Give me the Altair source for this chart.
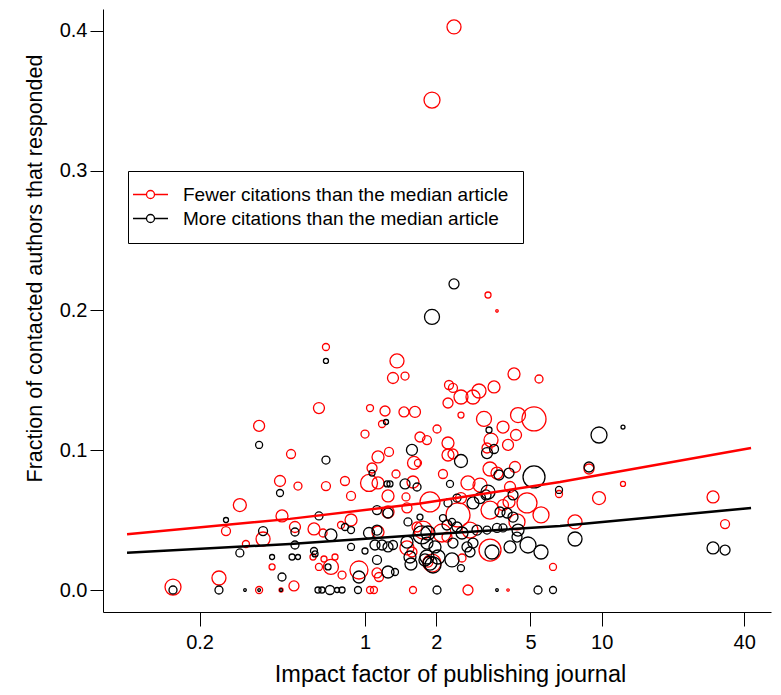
import altair as alt
import pandas as pd

# ---- data (impact factor, fraction responded, marker weight) ----
red_x = [2.377, 1.919, 3.309, 3.611, 0.684, 1.365, 1.313, 1.476, 4.261, 5.434,
         2.264, 2.353, 2.544, 2.859, 3.031, 3.508, 2.242, 0.639, 1.050, 1.215,
         1.461, 1.626, 2.544, 3.182, 5.176, 0.357, 1.180, 2.015, 3.828, 1.000,
         1.707, 1.827, 4.345, 3.407, 4.020, 0.487, 1.135, 1.263, 2.242, 2.353,
         3.277, 1.611, 1.674, 1.071, 1.352, 2.135, 3.374, 3.611, 4.302, 0.4375,
         0.521, 0.684, 0.823, 0.873, 1.040, 1.135, 1.251, 1.595, 2.723, 3.061,
         4.099, 2.544, 1.882, 3.828, 4.059, 4.835, 5.541, 6.601, 8.837, 12.30,
         9.741, 29.53, 33.19, 7.714, 2.471, 4.387, 1.490, 0.296, 0.446, 0.2587,
         0.506, 0.609, 0.665, 0.792, 0.873, 0.314, 0.371, 1.251, 1.504, 1.135,
         1.659, 1.504, 1.579, 1.758, 2.115, 2.220, 2.777, 3.374, 1.845, 1.919,
         2.569, 6.227, 0.405, 0.603, 0.639, 0.671, 0.718, 0.747, 0.800, 0.943,
         1.124, 1.146, 0.501, 0.2416, 0.1545, 0.357, 0.442, 1.050, 1.091, 1.595,
         2.723, 4.020, 3.374, 4.430, 2.242]
red_y = [0.4029, 0.3506, 0.2111, 0.1997, 0.1739, 0.1639, 0.1517, 0.1531, 0.1546, 0.1510,
         0.1467, 0.1446, 0.1381, 0.1381, 0.1424, 0.1453, 0.1338, 0.1302, 0.1302, 0.1281,
         0.1274, 0.1274, 0.1252, 0.1224, 0.1224, 0.1174, 0.1188, 0.1152, 0.1166, 0.1116,
         0.1095, 0.1073, 0.1109, 0.1073, 0.1038, 0.0973, 0.0952, 0.0988, 0.0966, 0.0973,
         0.1016, 0.0909, 0.0909, 0.0873, 0.0830, 0.0830, 0.0866, 0.0837, 0.0880, 0.0780,
         0.0744, 0.0744, 0.0780, 0.0673, 0.0766, 0.0766, 0.0673, 0.0773, 0.0766, 0.0751,
         0.0737, 0.0658, 0.0630, 0.0608, 0.0630, 0.0623, 0.0537, 0.0687, 0.0866, 0.0759,
         0.0658, 0.0666, 0.0472, 0.0487, 0.0537, 0.0487, 0.0666, 0.0608, 0.0530, 0.0422,
         0.0451, 0.0437, 0.0408, 0.0465, 0.0501, 0.0329, 0.0365, 0.0558, 0.0587, 0.0415,
         0.0451, 0.0301, 0.0272, 0.0429, 0.0408, 0.0379, 0.0429, 0.0286, 0.0200, 0.0193,
         0.0229, 0.0165, 0.0165, 0.0236, 0.0165, 0.0222, 0.0165, 0.0236, 0.0107, 0.0143,
         0.0122, 0.0093, 0.0029, 0.0086, 0.0021, 0.0, 0.0, 0.0, 0.0, 0.0,
         0.0, 0.0, 0.0572, 0.1252, 0.1052]
red_n = [7, 8, 3, 1.2, 3.5, 7, 5.5, 4, 6, 4,
         4.5, 4.5, 7, 7, 7, 6, 5, 5.5, 3.5, 5,
         5, 5.5, 3, 7.5, 12, 5.5, 3.5, 4, 6, 4,
         5, 4.5, 5.5, 7, 5.5, 4.5, 6, 4.5, 6, 5,
         5, 6.5, 3.5, 5, 4, 4.5, 7, 6, 5.5, 5.5,
         4, 4.5, 4.5, 4.5, 8.5, 6, 6, 6, 7, 7,
         5.5, 5.5, 10, 5.5, 6, 10, 8, 3.5, 5, 2.5,
         6.5, 6, 4.5, 7, 12, 8, 4, 6.5, 6, 4.5,
         5.5, 6, 4, 3.5, 6, 3.5, 7, 6, 5, 6,
         5, 7, 5, 9, 9, 5, 8, 11, 5, 9,
         4, 3.5, 3, 3, 3.5, 3, 7.5, 3, 4, 9,
         5, 4.5, 5, 7, 8, 3.5, 2, 3.5, 3.5, 3.5,
         5, 1.2, 9, 7.5, 6]

black_x = [2.377, 1.919, 0.684, 1.227, 3.341, 12.30, 9.741, 0.357, 1.579, 3.277,
           3.508, 0.684, 2.544, 1.071, 8.837, 5.176, 3.683, 4.059, 0.4375, 1.239,
           1.275, 1.476, 1.659, 2.286, 3.309, 4.220, 2.447, 2.242, 2.859, 3.061,
           3.245, 6.601, 0.2587, 0.639, 0.371, 0.506, 0.718, 0.823, 0.873, 0.506,
           0.296, 0.405, 0.492, 0.521, 0.609, 0.615, 0.698, 0.446, 0.873, 1.000,
           1.040, 1.124, 1.124, 1.251, 1.519, 1.102, 1.180, 1.251, 1.313, 1.504,
           1.124, 1.251, 1.339, 0.943, 1.549, 1.564, 1.827, 1.882, 2.034, 2.331,
           1.938, 2.544, 1.792, 1.707, 2.135, 2.331, 2.220, 2.447, 2.569, 2.972,
           3.277, 3.611, 3.828, 3.718, 3.981, 4.220, 4.430, 4.387, 1.741, 1.845,
           1.827, 1.976, 2.353, 2.697, 2.859, 2.777, 3.440, 4.099, 4.882, 5.541,
           7.714, 29.53, 33.19, 0.1545, 0.2416, 0.3112, 0.357, 0.442, 0.633, 0.658,
           0.711, 0.762, 0.800, 0.934, 2.015, 3.611, 5.382, 6.227]
black_y = [0.2190, 0.1954, 0.1639, 0.1202, 0.1145, 0.1166, 0.1109, 0.1038, 0.1002, 0.0980,
           0.1009, 0.0930, 0.0923, 0.0837, 0.0880, 0.0809, 0.0823, 0.0837, 0.0694, 0.0759,
           0.0759, 0.0759, 0.0737, 0.0759, 0.0701, 0.0680, 0.0658, 0.0623, 0.0623, 0.0658,
           0.0680, 0.0716, 0.0501, 0.0530, 0.0422, 0.0415, 0.0394, 0.0451, 0.0429, 0.0322,
           0.0265, 0.0236, 0.0236, 0.0236, 0.0279, 0.0258, 0.0165, 0.0093, 0.0308, 0.0279,
           0.0408, 0.0429, 0.0572, 0.0551, 0.0487, 0.0322, 0.0322, 0.0308, 0.0322, 0.0343,
           0.0215, 0.0129, 0.0129, 0.0093, 0.0236, 0.0186, 0.0236, 0.0193, 0.0236, 0.0215,
           0.0179, 0.0157, 0.0215, 0.0522, 0.0515, 0.0487, 0.0465, 0.0451, 0.0408, 0.0429,
           0.0429, 0.0444, 0.0444, 0.0558, 0.0551, 0.0522, 0.0429, 0.0379, 0.0394, 0.0408,
           0.0336, 0.0308, 0.0336, 0.0308, 0.0336, 0.0272, 0.0272, 0.0308, 0.0322, 0.0272,
           0.0365, 0.0301, 0.0286, 0.0, 0.0, 0.0, 0.0, 0.0, 0.0, 0.0,
           0.0, 0.0, 0.0, 0.0, 0.0, 0.0, 0.0, 0.0]
black_n = [5, 7.5, 2.5, 2.5, 3, 2, 8, 3.5, 5.5, 5.5,
           4.5, 4, 6.5, 3, 5, 11, 5, 5, 3.5, 3,
           3, 5, 4, 3.5, 7, 5, 4, 4, 6, 5.5,
           5, 3.5, 2.5, 4, 4.5, 4, 6, 3.5, 3.5, 4,
           4, 2.5, 3, 2.5, 3.5, 3, 3, 4, 3.5, 3,
           5.5, 5, 4.5, 5, 4, 5, 5, 5, 4.5, 6,
           4.5, 6, 3.5, 6, 6, 6, 7, 7, 7, 7,
           8, 3.5, 6, 3, 3.5, 3.5, 5, 5, 6, 5,
           4, 4.5, 4, 5, 5, 5, 6, 5, 9, 7,
           6, 6, 5, 5, 5, 5, 7, 6, 8, 7,
           7, 6, 5, 4, 4, 1.3, 1.3, 1.3, 3, 3,
           4.5, 2.5, 3, 3.5, 4, 1.3, 4, 3.5]

fit_x = [0.0988, 0.482, 1.707, 6.665, 42.74]
fit_red_y = [0.0399, 0.0509, 0.0619, 0.0773, 0.1016]
fit_black_y = [0.0267, 0.0329, 0.0394, 0.0458, 0.0587]

x_ticks = [0.2, 1, 2, 5, 10, 40]
y_ticks = [0.0, 0.1, 0.2, 0.3, 0.4]

LAB_R = "Fewer citations than the median article"
LAB_B = "More citations than the median article"
FONT = "Liberation Sans"

pts = pd.DataFrame({
    "impact": red_x + black_x,
    "frac": red_y + black_y,
    "n": red_n + black_n,
    "group": [LAB_R] * len(red_x) + [LAB_B] * len(black_x),
})
fits = pd.DataFrame({
    "impact": fit_x + fit_x,
    "frac": fit_red_y + fit_black_y,
    "group": [LAB_R] * len(fit_x) + [LAB_B] * len(fit_x),
})

xscale = alt.Scale(type="log", domain=[0.0782, 51.9], nice=False)
yscale = alt.Scale(domain=[-0.01574, 0.41574], nice=False, zero=False)

xaxis = alt.Axis(values=x_ticks, format="~g", title="Impact factor of publishing journal",
                 grid=False, tickSize=14, labelPadding=6, labelFontSize=20, labelFont=FONT,
                 labelColor="black", tickColor="black", domainColor="black",
                 titleFont=FONT, titleFontSize=23.5, titleFontWeight="normal", titleColor="black",
                 titleX=347, titleY=69, titleBaseline="alphabetic", labelFlush=False)
yaxis = alt.Axis(values=y_ticks, format=".1f", title="Fraction of contacted authors that responded",
                 grid=False, tickSize=13, labelPadding=3, labelFontSize=20, labelFont=FONT,
                 labelColor="black", tickColor="black", domainColor="black",
                 titleFont=FONT, titleFontSize=21.5, titleFontWeight="normal", titleColor="black",
                 titleAngle=270, titleX=-62, titleY=259, titleBaseline="alphabetic",
                 titleAlign="center", labelFlush=False)

legend = alt.Legend(
    title=None, orient="none", legendX=25, legendY=162, direction="vertical",
    symbolType="M-4.375,0H-1M1,0H4.375M1,0A1,1,0,1,1,-1,0A1,1,0,1,1,1,0",
    symbolSize=64, symbolStrokeWidth=1.3, symbolOffset=-1,
    labelFont=FONT, labelFontSize=19, labelColor="black", labelOffset=23, labelLimit=0,
    padding=14, rowPadding=4, strokeColor="black", fillColor="white",
)

color = alt.Color("group:N",
                  scale=alt.Scale(domain=[LAB_R, LAB_B], range=["#FF0000", "#000000"]),
                  legend=legend)

points = alt.Chart(pts).mark_point(shape="circle", filled=False, strokeWidth=1.3, opacity=1).encode(
    x=alt.X("impact:Q", scale=xscale, axis=xaxis),
    y=alt.Y("frac:Q", scale=yscale, axis=yaxis),
    size=alt.Size("n:Q", scale=alt.Scale(type="pow", exponent=2, domain=[0, 10], range=[0, 400]),
                  legend=None),
    color=color,
)

lines = alt.Chart(fits).mark_line(strokeWidth=2.5).encode(
    x=alt.X("impact:Q", scale=xscale),
    y=alt.Y("frac:Q", scale=yscale),
    color=color,
    detail="group:N",
)

chart = alt.layer(points, lines).properties(
    width=668, height=603,
    padding={"left": 95, "top": 1, "right": 2, "bottom": 75},
    autosize=alt.AutoSizeParams(type="none"),
    background="white",
).configure_view(stroke=None)

chart.save("out.html", embed_options={"renderer": "svg", "actions": False})
